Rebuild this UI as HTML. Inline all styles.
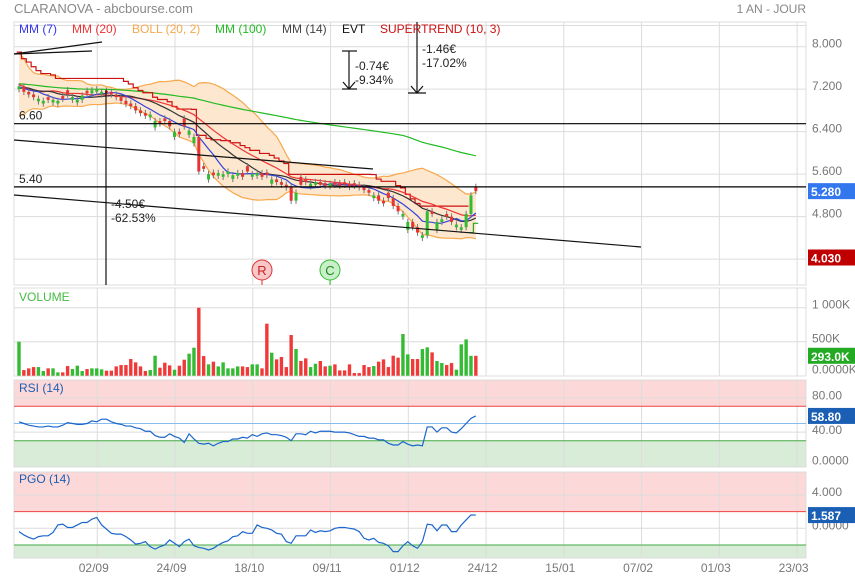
<!DOCTYPE html>
<html><head><meta charset="utf-8"><style>
body{margin:0;background:#fff;}
svg{display:block;font-family:"Liberation Sans",sans-serif;}
</style></head><body>
<svg id="chart" width="855" height="580" xmlns="http://www.w3.org/2000/svg"></svg>
<script>
const history=[7.6,7.9,8.0,7.7,7.4,7.0,6.8,6.9,7.2,7.5,7.3,7.1,7.0,7.2,7.4,7.3,7.2,7.1,7.3,7.2];
const closes=[7.25,7.15,7.1,7.05,7.02,6.98,7.0,7.0,6.98,7.02,
7.1,7.05,7.0,7.08,7.12,7.18,7.2,7.15,7.12,7.1,
7.05,6.98,6.92,6.88,6.8,6.75,6.7,6.72,6.6,6.55,
6.6,6.5,6.4,6.35,6.5,6.42,6.3,5.65,5.7,5.6,
5.58,5.62,5.6,5.65,5.58,5.62,5.55,5.65,5.6,5.62,
5.55,5.58,5.5,5.45,5.4,5.35,5.1,5.25,5.4,5.45,
5.42,5.45,5.4,5.38,5.42,5.4,5.38,5.4,5.36,5.38,
5.35,5.3,5.25,5.2,5.1,5.05,5.15,5.0,4.9,4.85,
4.7,4.6,4.5,4.45,4.9,4.85,4.7,4.75,4.8,4.7,
4.65,4.6,4.85,5.2,5.28];
const upDays=[1,0,0,0,1,1,0,1,1,0,0,1,1,1,0,1,1,1,0,0,0,0,0,0,0,0,0,1,1,0,0,0,1,0,0,1,1,0,0,1,0,1,1,1,1,1,0,0,1,1,0,0,1,0,0,0,0,1,0,0,1,1,0,0,1,0,0,0,0,0,0,0,0,1,0,0,0,0,0,1,1,0,0,1,1,0,1,1,0,0,1,1,1,1,0];
const volumes=[500,83,108,127,127,69,108,108,49,49,142,98,147,69,98,108,108,93,74,74,137,157,157,245,196,137,69,83,294,118,191,152,88,147,235,324,412,1000,289,167,206,137,196,108,108,137,137,127,167,167,108,765,338,240,275,127,598,392,216,255,127,176,216,137,147,167,78,78,167,39,39,157,127,142,206,240,127,294,265,613,314,245,245,392,417,343,216,186,157,186,88,461,534,293,293];
const rsi=[52,50,48,47,46,46,47,46,46,48,51,50,49,49,50,53,52,55,55,52,50,49,47,47,45,44,41,41,36,34,34,38,35,33,28,38,32,27,26,27,24,27,29,29,32,32,34,33,37,35,38,39,37,37,36,34,30,38,38,37,41,39,41,41,41,40,40,40,39,37,35,35,33,33,31,31,27,25,25,29,26,24,25,24,46,46,40,45,45,40,39,44,50,56,58.8];
const pgo=[-0.4,-0.8,-1.1,-1.3,-1,-0.9,-0.9,-0.5,0.4,0.5,0.1,0.1,0.4,0.7,0.7,1.1,1.3,0.4,-0.1,-0.6,-0.7,-0.7,-1,-1.4,-1.9,-1.8,-1.6,-2.2,-2.5,-2.2,-2,-1.4,-1.8,-2.2,-1.6,-1.3,-2.1,-2.3,-2.4,-2.6,-2.4,-2,-1.7,-1.5,-1,-0.9,-0.4,-0.6,-0.6,0.4,0.1,0,-0.2,-0.6,-0.7,-1.6,-1.8,-0.9,-0.9,-0.9,-0.2,-0.5,-0.3,-0.4,-0.3,0,0.1,0.1,0,-0.1,-0.4,-1.2,-1.4,-1.2,-1.7,-1.8,-2.1,-2.8,-2.8,-2.1,-1.6,-2.1,-2.4,-1.6,0.5,0.4,-0.3,0.4,0.4,-0.4,-0.4,0.4,1,1.6,1.587];
const priceTicks=[8,7.2,6.4,5.6,4.8];
const priceTickLabels=["8.000","7.200","6.400","5.600","4.800"];
const volTicks=[1000,500,0];
const volTickLabels=["1 000K","500K","0.0000K"];
const rsiTicks=[80,40,0];
const rsiTickLabels=["80.00","40.00","0.0000"];
const pgoTicks=[4,0];
const pgoTickLabels=["4.000","0.0000"];
const dateTicks=[16,32,48,64,80,96,112,128,144,160];
const dateLabels=["02/09","24/09","18/10","09/11","01/12","24/12","15/01","07/02","01/03","23/03"];
const hLevels=[6.55,5.36];
const hLevelLabels=["6.60","5.40"];

const svg=document.getElementById('chart');
const NS="http://www.w3.org/2000/svg";
const L=14,R=806;
function xOf(i){return 19+i*4.86;}
function yP(p){return 46.7+(8-p)*53.1;}
function yV(v){return 375.7-v*0.068;}
function yR(v){return 466.5-v*0.86;}
function yG(v){return 528.3-v*8.33;}
function el(tag,attrs,parent){const e=document.createElementNS(NS,tag);for(const k in attrs)e.setAttribute(k,attrs[k]);(parent||svg).appendChild(e);return e;}
function txt(s,attrs,parent){const t=el('text',attrs,parent);t.textContent=s;return t;}

const panels=[[22,285],[288,376],[380,467],[472,558]];
let z;
z=el('rect',{x:L,y:380,width:R-L,height:yR(70)-380,fill:'#fdd8d8'});

z=el('rect',{x:L,y:yR(30),width:R-L,height:467-yR(30),fill:'#d9ecd8'});

z=el('rect',{x:L,y:472,width:R-L,height:yG(2)-472,fill:'#fdd8d8'});

z=el('rect',{x:L,y:yG(-2),width:R-L,height:558-yG(-2),fill:'#d9ecd8'});


const grid=el('g',{stroke:'#dcdcdc','stroke-width':1,fill:'none'});

panels.forEach(p=>{dateTicks.forEach(d=>{const x=xOf(d)+0.5;if(x<R)el('line',{x1:x,x2:x,y1:p[0],y2:p[1]},grid);});
  el('rect',{x:L,y:p[0],width:R-L,height:p[1]-p[0]},grid);});
[8.4,8,7.2,6.4,5.6,4.8,4.0].forEach(p=>el('line',{x1:L,x2:R,y1:yP(p),y2:yP(p)},grid));
[1000,500].forEach(v=>el('line',{x1:L,x2:R,y1:yV(v),y2:yV(v)},grid));
[80,40].forEach(v=>el('line',{x1:L,x2:R,y1:yR(v),y2:yR(v)},grid));
[4,0].forEach(v=>el('line',{x1:L,x2:R,y1:yG(v),y2:yG(v)},grid));

const all=history.concat(closes);const H=history.length;
function ma(n,i){const j=i+H;const s=Math.max(0,j-n+1);let t=0;for(let k=s;k<=j;k++)t+=all[k];return t/(j-s+1);}
function sd(n,i){const m=ma(n,i);const j=i+H;const s=Math.max(0,j-n+1);let t=0;for(let k=s;k<=j;k++)t+=(all[k]-m)**2;return Math.sqrt(t/(j-s+1));}
const up=[],lo=[];
closes.forEach((c,i)=>{up.push([xOf(i),yP(ma(20,i)+2*sd(20,i))]);lo.push([xOf(i),yP(ma(20,i)-2*sd(20,i))]);});
const band=el('polygon',{points:up.concat(lo.slice().reverse()).map(p=>p.join(',')).join(' '),fill:'#fde7cf',stroke:'none'});

function line(pts,color,name,w){const e=el('polyline',{points:pts.map(p=>p.join(',')).join(' '),fill:'none',stroke:color,'stroke-width':w||1.2});return e;}
line(up,'#f7a84c','bollinger-upper');line(lo,'#f7a84c','bollinger-lower');
line(closes.map((c,i)=>[xOf(i),yP(ma(100,i))]),'#22bb22','mm100-line');

(function(){let atr=[];for(let i=0;i<closes.length;i++){const j=i+H;const s=Math.max(1,j-9);let t=0;for(let k=s;k<=j;k++)t+=Math.abs(all[k]-all[k-1])+0.1;atr.push(t/(j-s+1));}
 let trend=-1,ub=Infinity,lb=-Infinity;const segs=[];let cur=[];
 closes.forEach((c,i)=>{const u=c+0.05+3*atr[i]*0.85,l=c-0.05-3*atr[i]*0.85;
  ub=Math.min(ub,u);lb=Math.max(lb,l);
  if(trend<0&&c>ub){trend=1;lb=l;segs.push({t:-1,p:cur});cur=[];}
  else if(trend>0&&c<lb){trend=-1;ub=u;segs.push({t:1,p:cur});cur=[];}
  const v=trend<0?ub:lb;cur.push([xOf(i)-2.4,yP(v)],[xOf(i)+2.4,yP(v)]);});
 segs.push({t:trend,p:cur});
 segs.forEach(s=>{if(s.p.length)line(s.p,s.t<0?'#cc1111':'#22aa22',s.t<0?'supertrend-bear':'supertrend-bull');});})();
line(closes.map((c,i)=>[xOf(i),yP(ma(20,i))]),'#ee3333','mm20-line');
line(closes.map((c,i)=>[xOf(i),yP(ma(14,i))]),'#333333','mm14-line');
line(closes.map((c,i)=>[xOf(i),yP(ma(7,i))]),'#3344dd','mm7-line');

const cg=el('g',{});
closes.forEach((c,i)=>{const prev=i?closes[i-1]:7.3;const body=Math.max(0.05,Math.abs(c-prev));const isUp=upDays[i]===1;
 const o=isUp?c-body:c+body;const col=isUp?'#33bb33':'#e83333';const x=xOf(i);
 const w=el('line',{x1:x,x2:x,y1:yP(Math.max(o,c)+0.06),y2:yP(Math.min(o,c)-0.06),stroke:'#777','stroke-width':1},cg);
 
 const b=el('rect',{x:x-1.5,y:yP(Math.max(o,c)),width:3,height:Math.max(1,Math.abs(yP(o)-yP(c))),fill:col},cg);
 });

const dg=el('g',{stroke:'#111','stroke-width':1.2,fill:'none'});
[[14,54,102,42],[14,54,92,51],[14,140,373,169],[14,195,641,247],[106,90,106,285],[342,51,357,51],[342,89,357,89],[349,51,349,89],[408,93,426,93],[417,22,417,93]].forEach(a=>{
 const e=el('line',{x1:a[0],y1:a[1],x2:a[2],y2:a[3]},dg);});
el('polyline',{points:'343,82 349,89 355,82'},dg);el('polyline',{points:'411,86 417,93 423,86'},dg);
hLevels.forEach((p,k)=>{const e=el('line',{x1:L,x2:R,y1:yP(p),y2:yP(p),stroke:'#000','stroke-width':1.2});
 const t=txt(hLevelLabels[k],{x:19,y:yP(p)-4,'font-size':12,fill:'#222'});});
const ann=[["-0.74€",355,70],["-9.34%",355,84],["-1.46€",422,53],["-17.02%",422,67],["-4.50€",111,208],["-62.53%",111,222]];
ann.forEach(a=>{const t=txt(a[0],{x:a[1],y:a[2],'font-size':12,fill:'#222'});});
[[262,'R','#f8c8c8','#d33','#c22'],[330,'C','#c8f0c8','#3b3','#282']].forEach(e=>{
 const g=el('g',{});
 el('line',{x1:e[0],x2:e[0],y1:280,y2:285,stroke:e[3]},g);
 el('circle',{cx:e[0],cy:270,r:10,fill:e[2],stroke:e[3]},g);
 txt(e[1],{x:e[0],y:275,'text-anchor':'middle','font-size':13,fill:e[4]},g);});

closes.forEach((c,i)=>{const v=volumes[i];const col=upDays[i]===1?'#33bb33':'#f03a3a';
 const b=el('rect',{x:xOf(i)-1.7,y:yV(v),width:3.4,height:375.7-yV(v),fill:col});
 });
let e;
e=el('line',{x1:L,x2:R,y1:yR(70),y2:yR(70),stroke:'#ee4444'});
e=el('line',{x1:L,x2:R,y1:yR(30),y2:yR(30),stroke:'#44aa44'});
e=el('line',{x1:L,x2:R,y1:yR(50),y2:yR(50),stroke:'#88bbee'});
line(rsi.map((v,i)=>[xOf(i),yR(v)]),'#1a66cc','rsi-line',1.2);
e=el('line',{x1:L,x2:R,y1:yG(2),y2:yG(2),stroke:'#ee4444'});
e=el('line',{x1:L,x2:R,y1:yG(-2),y2:yG(-2),stroke:'#44aa44'});
line(pgo.map((v,i)=>[xOf(i),yG(v)]),'#1a66cc','pgo-line',1.2);

function axis(ticks,labels,f,name){ticks.forEach((v,k)=>{const t=txt(labels[k],{x:812,y:f(v),'font-size':12,fill:'#777'});});}
axis(priceTicks,priceTickLabels,v=>yP(v)+1,'price-tick');
axis(volTicks,volTickLabels,v=>v===0?yV(v)-2:yV(v)+1,'volume-tick');
axis(rsiTicks,rsiTickLabels,v=>v===0?yR(v)-2:yR(v)+2,'rsi-tick');
axis(pgoTicks,pgoTickLabels,v=>yG(v)+1,'pgo-tick');
dateTicks.forEach((d,k)=>{const t=txt(dateLabels[k],{x:xOf(d)-3,y:572,'text-anchor':'middle','font-size':12,fill:'#777'});});
function badge(s,y,col,name){const g=el('g',{});
 el('rect',{x:808,y:y-8,width:47,height:16,fill:col},g);txt(s,{x:811,y:y+5,'font-size':12,'font-weight':'bold',fill:'#fff'},g);}
badge('5.280',yP(closes[closes.length-1]),'#3377ee','last-price-badge');
badge('4.030',yP(4.03),'#c00000','low-price-badge');
badge('293.0K',yV(volumes[closes.length-1]),'#22aa22','last-volume-badge');
badge('58.80',yR(rsi[rsi.length-1]),'#1a5fb4','last-rsi-badge');
badge('1.587',yG(pgo[pgo.length-1]),'#1a5fb4','last-pgo-badge');

e=txt('CLARANOVA - abcbourse.com',{x:14,y:13,'font-size':13,fill:'#888'});
e=txt('1 AN - JOUR',{x:806,y:13,'text-anchor':'end','font-size':12,fill:'#888'});
[['MM (7)',19,'#3333ee'],['MM (20)',72,'#ee3333'],['BOLL (20, 2)',132,'#f7a84c'],['MM (100)',215,'#22bb22'],['MM (14)',282,'#444'],['EVT',342,'#111'],['SUPERTREND (10, 3)',380,'#cc1111']].forEach(a=>{
 const t=txt(a[0],{x:a[1],y:33,'font-size':12,fill:a[2]});});
e=txt('VOLUME',{x:19,y:301,'font-size':12,fill:'#44bb44'});
e=txt('RSI (14)',{x:19,y:392,'font-size':12,fill:'#1a5fb4'});
e=txt('PGO (14)',{x:19,y:483,'font-size':12,fill:'#1a5fb4'});
</script>
</body></html>
